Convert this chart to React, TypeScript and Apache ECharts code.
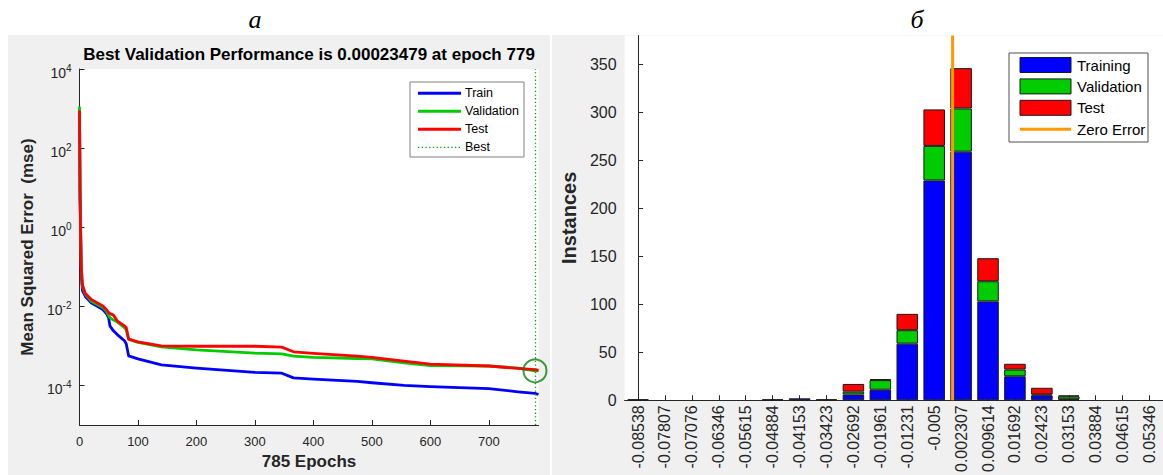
import React, { useEffect, useRef } from 'react';
import * as echarts from 'echarts';

const FONT = '"Liberation Sans", Arial, Helvetica, sans-serif';
const SERIF = '"Liberation Serif", "Times New Roman", serif';

// ---------- Panel а : training performance ----------
const epochs = [0, 1, 3, 5, 10, 20, 40, 46, 50, 52, 58, 65, 77, 80, 84, 100, 140, 200, 300, 346, 366, 400, 475, 500, 555, 600, 700, 750, 779, 785];
const trainMse = [890, 5.0, 0.063, 0.025, 0.0178, 0.0123, 0.0083, 0.0066, 0.005, 0.0032, 0.0024, 0.0019, 0.00135, 0.00112, 0.00056, 0.00047, 0.00033, 0.000275, 0.000214, 0.000204, 0.000155, 0.000145, 0.000126, 0.000117, 0.0001, 0.0000933, 0.0000832, 0.0000692, 0.0000631, 0.0000589];
const validationMse = [1120, 6.3, 0.1, 0.0316, 0.02, 0.0135, 0.0093, 0.0076, 0.0058, 0.0052, 0.0045, 0.004, 0.0029, 0.0025, 0.00148, 0.00123, 0.00095, 0.00079, 0.00066, 0.00063, 0.00055, 0.00051, 0.00048, 0.00047, 0.00037, 0.000316, 0.00031, 0.000275, 0.00023479, 0.000234];
const testMse = [890, 5.4, 0.1, 0.035, 0.021, 0.015, 0.0102, 0.0083, 0.0069, 0.0066, 0.006, 0.0042, 0.0032, 0.0029, 0.00148, 0.00126, 0.001, 0.00098, 0.00098, 0.00093, 0.00071, 0.00065, 0.00055, 0.00051, 0.00041, 0.000347, 0.00031, 0.00027, 0.000251, 0.000245];
const totalEpochs = 785;
const bestEpoch = 779;
const bestPerf = 0.00023479;
const epochTicks = [0, 100, 200, 300, 400, 500, 600, 700];
const mseTicks = [1e-4, 1e-2, 1, 1e2, 1e4];
const perfLegendNames = ['Train', 'Validation', 'Test', 'Best'];

// ---------- Panel б : error histogram ----------
const binLabels = ['-0.08538', '-0.07807', '-0.07076', '-0.06346', '-0.05615', '-0.04884', '-0.04153', '-0.03423', '-0.02692', '-0.01961', '-0.01231', '-0.005', '0.002307', '0.009614', '0.01692', '0.02423', '0.03153', '0.03884', '0.04615', '0.05346'];
const trainingCounts = [1, 0, 0, 0, 0, 1, 2, 1, 6, 11, 59, 229, 259, 103, 25, 5, 1, 0, 0, 0];
const validationCounts = [0, 0, 0, 0, 0, 0, 0, 0, 3, 10, 14, 36, 45, 21, 7, 1, 3, 0, 0, 0];
const testCounts = [0, 0, 0, 0, 0, 0, 0, 0, 8, 1, 17, 38, 42, 24, 6, 7, 1, 0, 0, 0];
const instanceTicks = [0, 50, 100, 150, 200, 250, 300, 350];
const instanceMax = 380;
const histLegendNames = ['Training', 'Validation', 'Test', 'Zero Error'];

const BLUE = '#0000ff';
const GREEN = '#00cc00';
const RED = '#ff0000';
const BEST_GREEN = '#00a800';
const ORANGE = '#ff9900';
const AXIS = '#262626';

function zeroPosition(): number {
  const c = binLabels.map(Number);
  for (let i = 0; i < c.length - 1; i++) {
    if (c[i] <= 0 && c[i + 1] > 0) return i + (0 - c[i]) / (c[i + 1] - c[i]);
  }
  return 0;
}

function buildLeft(): any {
  const lineColors = [BLUE, GREEN, RED, BEST_GREEN];
  const legendChildren: any[] = [
    { type: 'rect', shape: { x: 410, y: 82, width: 114, height: 75 }, style: { fill: '#fff', stroke: '#808080', lineWidth: 1 } },
  ];
  perfLegendNames.forEach((n, i) => {
    const cy = 93.3 + i * 18;
    const isBest = i === 3;
    legendChildren.push({
      type: 'line',
      shape: { x1: 418, y1: cy, x2: 461, y2: cy },
      style: isBest ? { stroke: lineColors[i], lineWidth: 1.3, lineDash: [1.3, 2.4] } : { stroke: lineColors[i], lineWidth: 3 },
    });
    legendChildren.push({
      type: 'text', x: 465, y: cy,
      style: { text: n, font: `12.5px ${FONT}`, fill: '#000', textAlign: 'left', textVerticalAlign: 'middle' },
    });
  });

  const mk = (name: string, vals: number[], color: string, z: number) => ({
    name, type: 'line', data: epochs.map((e, i) => [e, vals[i]]),
    symbol: 'none', showSymbol: false, z,
    lineStyle: { color, width: 2.8, join: 'round' }, itemStyle: { color },
  });

  return {
    animation: false,
    backgroundColor: 'transparent',
    textStyle: { fontFamily: FONT },
    grid: { left: 79.5, top: 69, width: 459, height: 359.5, show: true, backgroundColor: '#fff', borderWidth: 0 },
    xAxis: {
      type: 'value', min: 0, max: totalEpochs, interval: 100,
      name: `${totalEpochs} Epochs`, nameLocation: 'middle', nameGap: 28,
      nameTextStyle: { fontFamily: FONT, fontSize: 17, fontWeight: 'bold', color: AXIS },
      axisLine: { show: true, onZero: false, lineStyle: { color: AXIS, width: 1 } },
      axisTick: { show: true, inside: true, length: 5, customValues: epochTicks, lineStyle: { color: AXIS } },
      axisLabel: { customValues: epochTicks, margin: 10, fontSize: 13, color: AXIS, fontFamily: FONT },
      splitLine: { show: false },
    },
    yAxis: {
      type: 'log', logBase: 10, min: 1e-5, max: 1e4,
      name: 'Mean Squared Error  (mse)', nameLocation: 'middle', nameGap: 36,
      nameTextStyle: { fontFamily: FONT, fontSize: 17, fontWeight: 'bold', color: AXIS },
      axisLine: { show: true, onZero: false, lineStyle: { color: AXIS, width: 1 } },
      axisTick: { show: true, inside: true, length: 5, customValues: mseTicks, lineStyle: { color: AXIS } },
      axisLabel: {
        customValues: mseTicks, margin: 8,
        formatter: (v: number) => {
          const e = Math.round(Math.log10(v));
          if (e % 2 !== 0) return '';
          return `{b|10}{s|${e}}`;
        },
        rich: {
          b: { fontSize: 14, lineHeight: 22, padding: [8, 0, 0, 0], color: AXIS, fontFamily: FONT },
          s: { fontSize: 10, lineHeight: 12, padding: [5, 0, 0, 0], verticalAlign: 'top', color: AXIS, fontFamily: FONT },
        },
      },
      splitLine: { show: false },
    },
    series: [
      mk('Train', trainMse, BLUE, 2),
      mk('Validation', validationMse, GREEN, 3),
      mk('Test', testMse, RED, 4),
      {
        name: 'Best', type: 'scatter', data: [[bestEpoch, bestPerf]], symbol: 'circle', symbolSize: 23, z: 6,
        itemStyle: { color: 'rgba(0,0,0,0)', borderColor: '#0f800f', borderWidth: 2 },
        markLine: {
          silent: true, symbol: ['none', 'none'], label: { show: false },
          lineStyle: { color: BEST_GREEN, width: 1.3, type: [1.3, 2.4] },
          data: [{ yAxis: bestPerf }, { xAxis: bestEpoch }],
        },
      },
    ],
    graphic: [
      { type: 'rect', z: -10, silent: true, shape: { x: 8, y: 35, width: 542, height: 440 }, style: { fill: '#f0f0f0' } },
      { type: 'text', x: 255, y: 19, z: 10, style: { text: 'а', font: `italic 26px ${SERIF}`, fill: '#000', textAlign: 'center', textVerticalAlign: 'middle' } },
      { type: 'text', x: 309, y: 54, z: 10, style: { text: `Best Validation Performance is ${bestPerf} at epoch ${bestEpoch}`, font: `bold 17px ${FONT}`, fill: '#000', textAlign: 'center', textVerticalAlign: 'middle' } },
      { type: 'group', z: 20, children: legendChildren },
    ],
  };
}

function buildRight(): any {
  const colors = [BLUE, GREEN, RED, ORANGE];
  const legendChildren: any[] = [
    { type: 'rect', shape: { x: 458, y: 53, width: 139, height: 89 }, style: { fill: '#fff', stroke: '#505050', lineWidth: 1 } },
  ];
  histLegendNames.forEach((n, i) => {
    const cy = 65 + i * 21.4;
    if (i < 3) {
      legendChildren.push({ type: 'rect', shape: { x: 469, y: cy - 7.5, width: 51, height: 15 }, style: { fill: colors[i], stroke: '#1a1a1a', lineWidth: 1 } });
    } else {
      legendChildren.push({ type: 'line', shape: { x1: 469, y1: cy, x2: 520, y2: cy }, style: { stroke: colors[i], lineWidth: 3 } });
    }
    legendChildren.push({ type: 'text', x: 526, y: cy, style: { text: n, font: `15px ${FONT}`, fill: '#000', textAlign: 'left', textVerticalAlign: 'middle' } });
  });

  const zp = zeroPosition();
  const barStyle = (color: string) => ({ color, borderColor: '#1a1a1a', borderWidth: 1 });
  const nz = (arr: number[]) => arr.map((v) => (v === 0 ? '-' : v));

  return {
    animation: false,
    backgroundColor: 'transparent',
    textStyle: { fontFamily: FONT },
    grid: { left: 63, top: 35.5, width: 552.6, height: 371, show: true, backgroundColor: '#fff', borderWidth: 0 },
    xAxis: [
      {
        type: 'category', data: binLabels,
        axisLine: { show: true, lineStyle: { color: AXIS, width: 1 } },
        axisTick: { show: true, alignWithLabel: true, inside: true, length: 5, interval: 0, lineStyle: { color: AXIS } },
        axisLabel: { interval: 0, rotate: 90, fontSize: 16, margin: 5, color: AXIS, fontFamily: FONT, hideOverlap: false },
        splitLine: { show: false },
      },
      { type: 'value', min: -0.5, max: binLabels.length - 0.5, show: false },
    ],
    yAxis: {
      type: 'value', min: 0, max: instanceMax, interval: 50,
      name: 'Instances', nameLocation: 'middle', nameGap: 40,
      nameTextStyle: { fontFamily: FONT, fontSize: 20, fontWeight: 'bold', color: AXIS },
      axisLine: { show: true, lineStyle: { color: AXIS, width: 1 } },
      axisTick: { show: true, inside: true, length: 5, customValues: instanceTicks, lineStyle: { color: AXIS } },
      axisLabel: { customValues: instanceTicks, margin: 8, fontSize: 16, color: AXIS, fontFamily: FONT },
      splitLine: { show: false },
    },
    series: [
      { name: 'Training', type: 'bar', stack: 'err', data: nz(trainingCounts), barCategoryGap: '20%', itemStyle: barStyle(BLUE) },
      { name: 'Validation', type: 'bar', stack: 'err', data: nz(validationCounts), barCategoryGap: '20%', itemStyle: barStyle(GREEN) },
      { name: 'Test', type: 'bar', stack: 'err', data: nz(testCounts), barCategoryGap: '20%', itemStyle: barStyle(RED) },
      {
        name: 'Zero Error', type: 'line', xAxisIndex: 1, yAxisIndex: 0, z: 10,
        data: [[zp, 0], [zp, instanceMax]], symbol: 'none', showSymbol: false,
        lineStyle: { color: ORANGE, width: 3 },
      },
    ],
    graphic: [
      { type: 'rect', z: -10, silent: true, shape: { x: 1, y: 35, width: 611, height: 440 }, style: { fill: '#f0f0f0' } },
      { type: 'text', x: 366, y: 19, z: 10, style: { text: 'б', font: `italic 26px ${SERIF}`, fill: '#000', textAlign: 'center', textVerticalAlign: 'middle' } },
      { type: 'group', z: 20, children: legendChildren },
    ],
  };
}

export default function App() {
  const leftRef = useRef<HTMLDivElement>(null);
  const rightRef = useRef<HTMLDivElement>(null);
  useEffect(() => {
    const left = echarts.init(leftRef.current!, null, { renderer: 'svg' });
    const right = echarts.init(rightRef.current!, null, { renderer: 'svg' });
    left.setOption(buildLeft());
    right.setOption(buildRight());
    return () => {
      left.dispose();
      right.dispose();
    };
  }, []);
  return (
    <div style={{ position: 'fixed', left: 0, top: 0, width: 1163, height: 475, background: '#fff', overflow: 'hidden' }}>
      <div ref={leftRef} style={{ position: 'absolute', left: 0, top: 0, width: 551, height: 475 }} />
      <div ref={rightRef} style={{ position: 'absolute', left: 551, top: 0, width: 612, height: 475 }} />
    </div>
  );
}
